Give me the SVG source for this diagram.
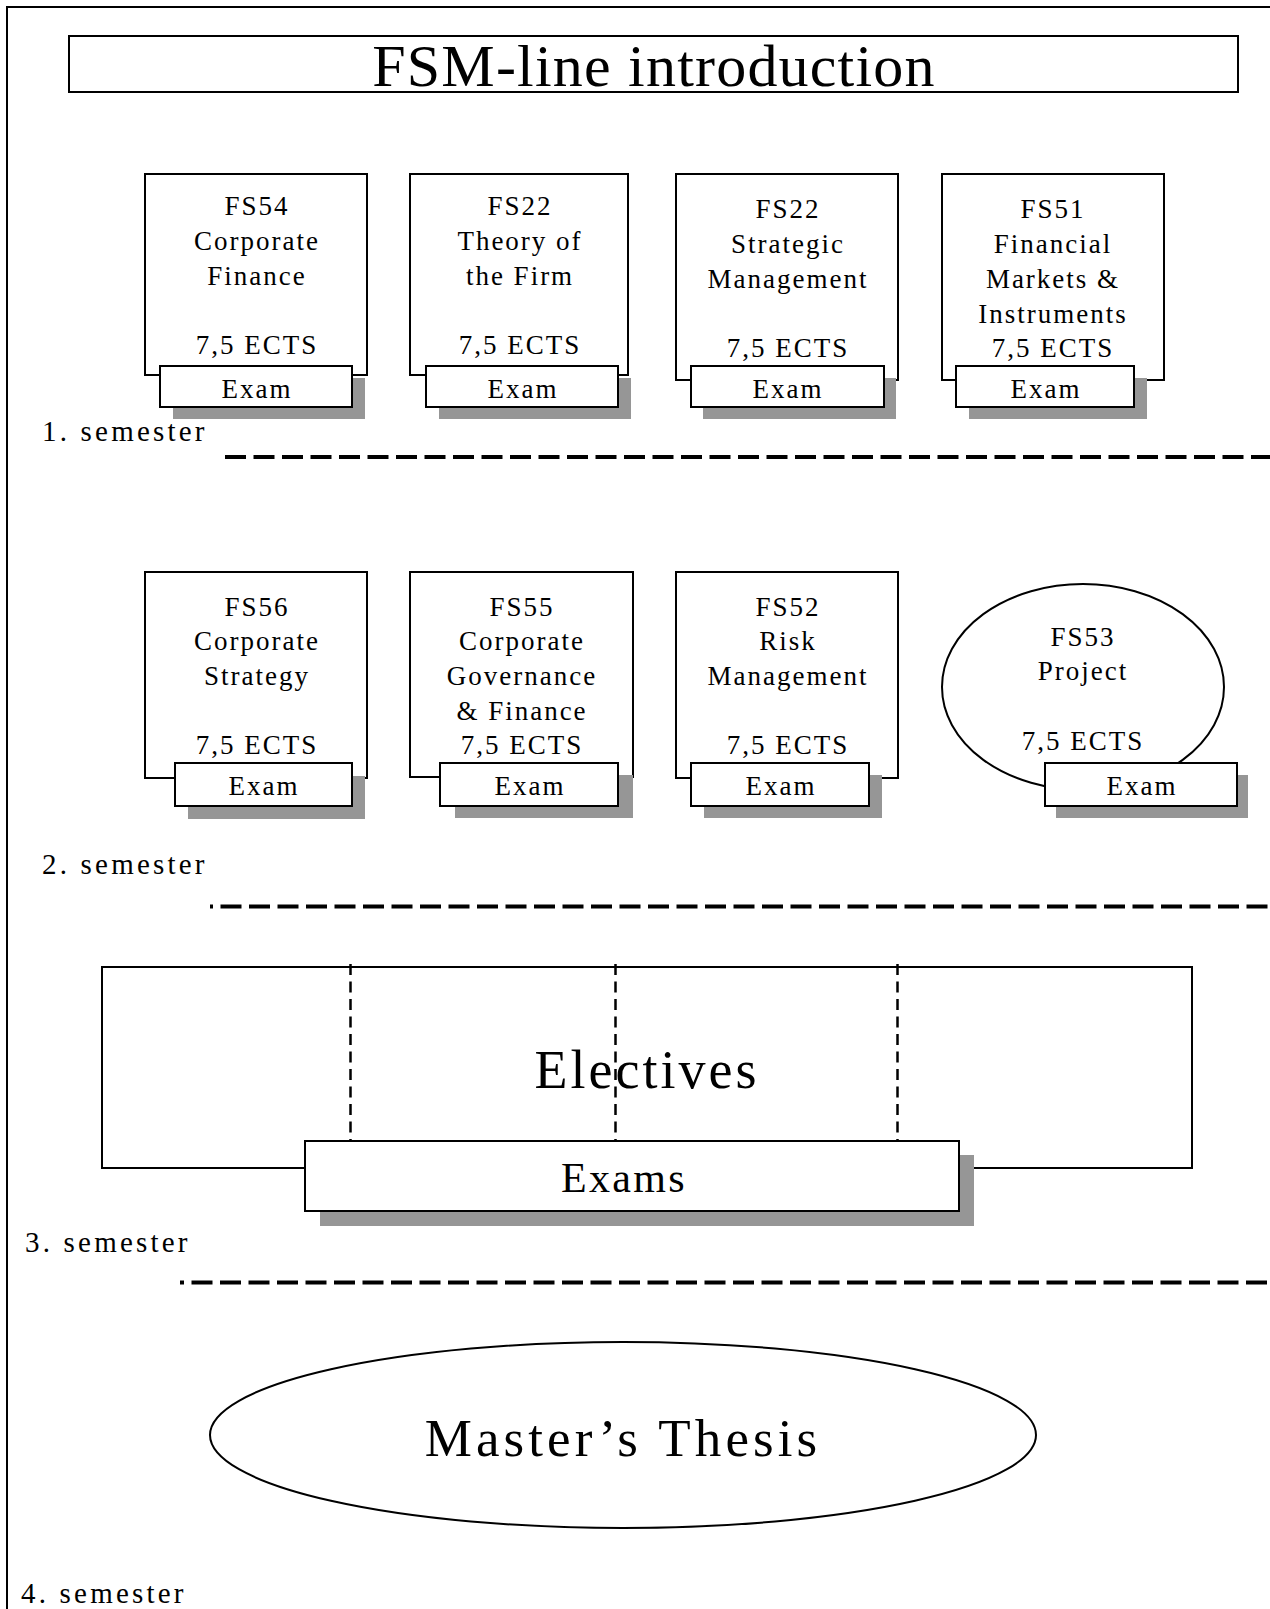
<svg xmlns="http://www.w3.org/2000/svg" width="1270" height="1609" viewBox="0 0 1270 1609">
<style>
text{font-family:"Liberation Serif","Times New Roman",serif;fill:#000;text-anchor:middle}
.t{font-size:27px;letter-spacing:2px}
.lab{font-size:29px;letter-spacing:3.2px;text-anchor:start}
.box{fill:#fff;stroke:#000;stroke-width:2}
.sh{fill:#969696;stroke:none}
.dash{fill:none;stroke:#000;stroke-width:4;stroke-dasharray:21 7.5}
.vd{fill:none;stroke:#000;stroke-width:2.5;stroke-dasharray:11 6.5}
</style>
<rect width="1270" height="1609" fill="#fff"/>
<g id="frame">
<path d="M7,1609 V7 H1270" fill="none" stroke="#000" stroke-width="2"/>
</g>
<g id="title">
<rect class="box" x="69" y="36" width="1169" height="56"/>
<text x="654" y="86" style="font-size:60px;letter-spacing:1.2px">FSM-line introduction</text>
</g>
<g id="connectors">
<path class="dash" d="M225,457 H1270"/>
<path class="dash" d="M210,906.5 H1270" stroke-dashoffset="18"/>
<path class="dash" d="M180,1282.5 H1270" stroke-dashoffset="17"/>
</g>
<g id="fs54">
<rect class="box" x="145" y="174" width="222" height="201"/>
<text class="t" x="257" y="215">FS54</text>
<text class="t" x="257" y="250">Corporate</text>
<text class="t" x="257" y="285">Finance</text>
<text class="t" x="257" y="354">7,5 ECTS</text>
<rect class="sh" x="173" y="378" width="192" height="41"/>
<rect class="box" x="160" y="366" width="192" height="41"/>
<text class="t" x="257" y="398">Exam</text>
</g>
<g id="fs22-theory">
<rect class="box" x="410" y="174" width="218" height="201"/>
<text class="t" x="520" y="215">FS22</text>
<text class="t" x="520" y="250">Theory of</text>
<text class="t" x="520" y="285">the Firm</text>
<text class="t" x="520" y="354">7,5 ECTS</text>
<rect class="sh" x="439" y="378" width="192" height="41"/>
<rect class="box" x="426" y="366" width="192" height="41"/>
<text class="t" x="523" y="398">Exam</text>
</g>
<g id="fs22-strategic">
<rect class="box" x="676" y="174" width="222" height="206"/>
<text class="t" x="788" y="218">FS22</text>
<text class="t" x="788" y="253">Strategic</text>
<text class="t" x="788" y="288">Management</text>
<text class="t" x="788" y="357">7,5 ECTS</text>
<rect class="sh" x="703" y="378" width="193" height="41"/>
<rect class="box" x="691" y="366" width="193" height="41"/>
<text class="t" x="788" y="398">Exam</text>
</g>
<g id="fs51">
<rect class="box" x="942" y="174" width="222" height="206"/>
<text class="t" x="1053" y="218">FS51</text>
<text class="t" x="1053" y="253">Financial</text>
<text class="t" x="1053" y="287.5">Markets &amp;</text>
<text class="t" x="1053" y="322.5">Instruments</text>
<text class="t" x="1053" y="357">7,5 ECTS</text>
<rect class="sh" x="969" y="378" width="178" height="41"/>
<rect class="box" x="956" y="366" width="178" height="41"/>
<text class="t" x="1046" y="398">Exam</text>
</g>
<text class="lab" x="42" y="441">1. semester</text>
<g id="fs56">
<rect class="box" x="145" y="572" width="222" height="206"/>
<text class="t" x="257" y="616">FS56</text>
<text class="t" x="257" y="650">Corporate</text>
<text class="t" x="257" y="685">Strategy</text>
<text class="t" x="257" y="754">7,5 ECTS</text>
<rect class="sh" x="188" y="776" width="177" height="43"/>
<rect class="box" x="175" y="763" width="177" height="43"/>
<text class="t" x="264" y="795">Exam</text>
</g>
<g id="fs55">
<rect class="box" x="410" y="572" width="223" height="205"/>
<text class="t" x="522" y="616">FS55</text>
<text class="t" x="522" y="650">Corporate</text>
<text class="t" x="522" y="685">Governance</text>
<text class="t" x="522" y="719.5">&amp; Finance</text>
<text class="t" x="522" y="754">7,5 ECTS</text>
<rect class="sh" x="455" y="775" width="178" height="43"/>
<rect class="box" x="440" y="763" width="178" height="43"/>
<text class="t" x="530" y="795">Exam</text>
</g>
<g id="fs52">
<rect class="box" x="676" y="572" width="222" height="206"/>
<text class="t" x="788" y="616">FS52</text>
<text class="t" x="788" y="650">Risk</text>
<text class="t" x="788" y="685">Management</text>
<text class="t" x="788" y="754">7,5 ECTS</text>
<rect class="sh" x="704" y="775" width="178" height="43"/>
<rect class="box" x="691" y="763" width="178" height="43"/>
<text class="t" x="781" y="795">Exam</text>
</g>
<g id="fs53">
<ellipse class="box" cx="1083" cy="687" rx="141" ry="103"/>
<text class="t" x="1083" y="646">FS53</text>
<text class="t" x="1083" y="680">Project</text>
<text class="t" x="1083" y="750">7,5 ECTS</text>
<rect class="sh" x="1056" y="775" width="192" height="43"/>
<rect class="box" x="1045" y="763" width="192" height="43"/>
<text class="t" x="1142" y="795">Exam</text>
</g>
<text class="lab" x="42" y="874">2. semester</text>
<g id="electives">
<rect class="box" x="102" y="967" width="1090" height="201"/>
<path class="vd" d="M350.5,964 V1141 M615.5,964 V1141 M897.5,964 V1141"/>
<text x="647" y="1088" style="font-size:54px;letter-spacing:3px">Electives</text>
<rect class="sh" x="320" y="1155" width="654" height="71"/>
<rect class="box" x="305" y="1141" width="654" height="70"/>
<text x="624" y="1192" style="font-size:42px;letter-spacing:2.3px">Exams</text>
</g>
<text class="lab" x="25" y="1252">3. semester</text>
<g id="thesis">
<ellipse class="box" cx="623" cy="1435" rx="413" ry="93"/>
<text x="623" y="1456" style="font-size:53px;letter-spacing:4.1px">Master’s Thesis</text>
</g>
<text class="lab" x="21" y="1603">4. semester</text>
</svg>
